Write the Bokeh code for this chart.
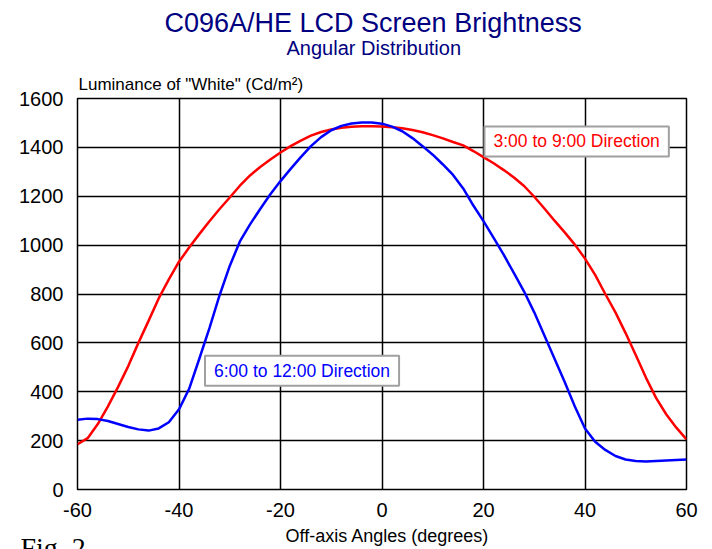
from bokeh.plotting import figure
from bokeh.models import Label, FixedTicker, Range1d, Title
from bokeh.embed import file_html
from bokeh.resources import INLINE

angles = list(range(-60, 61, 2))
red_3to9 = [185, 210, 268, 340, 420, 505, 600, 690, 782, 860,
            932, 990, 1045, 1098, 1148, 1195, 1243, 1285, 1320, 1350,
            1379, 1405, 1428, 1448, 1463, 1473, 1480, 1484, 1486, 1486,
            1485, 1482, 1478, 1471, 1462, 1450, 1437, 1422, 1408, 1385,
            1360, 1335, 1307, 1277, 1242, 1198, 1150, 1100, 1052, 1002,
            945, 878, 800, 725, 640, 550, 458, 375, 308, 253, 205]
blue_6to12 = [285, 290, 288, 280, 268, 256, 246, 241, 250, 275,
              328, 412, 535, 660, 795, 915, 1015, 1085, 1148, 1208,
              1262, 1312, 1360, 1405, 1442, 1470, 1488, 1498, 1502, 1502,
              1497, 1485, 1466, 1438, 1405, 1370, 1330, 1287, 1232, 1162,
              1098, 1030, 960, 885, 810, 725, 630, 535, 440, 340,
              250, 195, 162, 137, 123, 117, 115, 117, 119, 121, 123]
x_ticks = [-60, -40, -20, 0, 20, 40, 60]
y_ticks = [0, 200, 400, 600, 800, 1000, 1200, 1400, 1600]

title_text = "C096A/HE LCD Screen Brightness"
subtitle_text = "Angular Distribution"
ylabel_text = 'Luminance of "White" (Cd/m\u00b2)'
xlabel_text = "Off-axis Angles (degrees)"
red_label = "3:00 to 9:00 Direction"
blue_label = "6:00 to 12:00 Direction"
fig_text = "Fig. 2"

FONT = "Liberation Sans"
NAVY = "#000080"

p = figure(width=712, height=549, output_backend="svg", toolbar_location=None,
           x_range=Range1d(-60, 60), y_range=Range1d(0, 1600),
           min_border_left=77, min_border_right=26, min_border_top=98,
           min_border_bottom=60)

p.outline_line_color = "black"
p.outline_line_width = 1.5
p.background_fill_color = "white"
p.border_fill_color = "white"

for ax in (p.xaxis[0], p.yaxis[0]):
    ax.axis_line_color = None
    ax.major_tick_line_color = None
    ax.minor_tick_line_color = None
    ax.major_tick_out = 0
    ax.major_tick_in = 0
    ax.minor_tick_out = 0
    ax.major_label_text_font = FONT
    ax.major_label_text_font_size = "20px"
    ax.major_label_text_color = "black"

p.xaxis.ticker = FixedTicker(ticks=x_ticks)
p.yaxis.ticker = FixedTicker(ticks=y_ticks)
p.xaxis.major_label_overrides = {t: str(t) for t in x_ticks}
p.xaxis.major_label_standoff = 13
p.yaxis.major_label_standoff = 14

p.xgrid.ticker = FixedTicker(ticks=x_ticks)
p.ygrid.ticker = FixedTicker(ticks=y_ticks)
for g in (p.xgrid[0], p.ygrid[0]):
    g.grid_line_color = "black"
    g.grid_line_width = 1.5

p.line(angles, red_3to9, line_color="#ff0000", line_width=2.5)
p.line(angles, blue_6to12, line_color="#0000ff", line_width=2.5)

# titles stacked above the frame (first added = closest to frame)
p.add_layout(Title(text=ylabel_text, align="left", offset=1, standoff=10,
                   text_font=FONT, text_font_size="17px",
                   text_font_style="normal", text_color="black"), "above")
p.add_layout(Title(text=subtitle_text, align="left", offset=209, standoff=17,
                   text_font=FONT, text_font_size="20px",
                   text_font_style="normal", text_color=NAVY), "above")
p.add_layout(Title(text=title_text, align="left", offset=87, standoff=-23,
                   text_font=FONT, text_font_size="27px",
                   text_font_style="normal", text_color=NAVY), "above")

# x axis title below the tick labels
p.add_layout(Title(text=xlabel_text, align="left", offset=208, standoff=8,
                   vertical_align="bottom",
                   text_font=FONT, text_font_size="18px",
                   text_font_style="normal", text_color="black"), "below")

# figure caption at the bottom-left corner
p.add_layout(Title(text=fig_text, align="left", offset=-57, standoff=-35,
                   vertical_align="top",
                   text_font="Liberation Serif", text_font_size="28px",
                   text_font_style="normal", text_color="black"), "below")

# direction boxes
box_pad = dict(left=9, right=9, top=5, bottom=5)
p.add_layout(Label(x=20, y=1400, x_offset=1, y_offset=6, text=red_label,
                   text_font=FONT, text_font_size="17.5px", text_color="#ff0000",
                   text_align="left", text_baseline="middle",
                   background_fill_color="white", border_line_color="#a0a0a0",
                   border_line_width=2, padding=box_pad))
p.add_layout(Label(x=-40, y=400, x_offset=26, y_offset=21, text=blue_label,
                   text_font=FONT, text_font_size="17.5px", text_color="#0000ff",
                   text_align="left", text_baseline="middle",
                   background_fill_color="white", border_line_color="#a0a0a0",
                   border_line_width=2, padding=box_pad))

open("out.html", "w").write(file_html(p, INLINE))
